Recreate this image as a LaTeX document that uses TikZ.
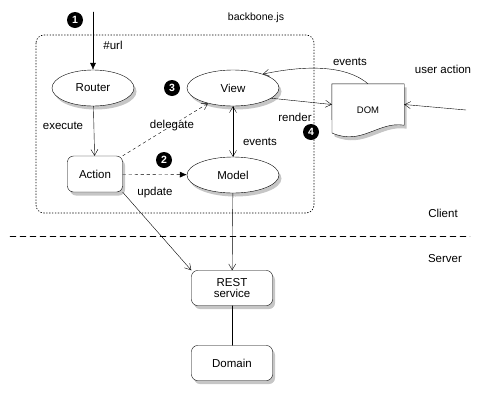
\documentclass[tikz,border=0pt]{standalone}
\usepackage{fontspec}
\setmainfont{Liberation Sans}
\usetikzlibrary{positioning,arrows.meta,shapes.geometric,shadows,calc}

\begin{document}
\begin{tikzpicture}[x=1pt, y=-1pt, line cap=round,
    font=\fontsize{11.5}{13}\selectfont,
    >={Straight Barb[length=6pt,width=7pt]},
    shade/.style={drop shadow={opacity=0.45, shadow xshift=2.5pt, shadow yshift=-3.5pt}},
    oval/.style={draw, ellipse, fill=white, shade, minimum height=36pt},
    box/.style={draw, rounded corners=6pt, fill=white, shade, align=center},
    badge/.style={circle, fill=black, text=white, inner sep=0pt, minimum size=16pt, font=\fontsize{10.5}{12}\selectfont\bfseries}]
  \useasboundingbox (0,0) rectangle (482,405);

  % backbone.js frame
  \draw[dash pattern=on 0.9pt off 2pt, line width=0.7pt, rounded corners=8pt] (36,35) rectangle (314,213);
  \node[font=\fontsize{10.5}{12}\selectfont] (bbjs) at (256,18) {backbone.js};

  % Client / Server split
  \draw[dash pattern=on 6pt off 4pt] (10,236) -- (470,236);
  \node (client) at (443,213) {Client};
  \node (server) at (445,259) {Server};

  % Nodes
  \node[oval, minimum width=82pt] (router) at (93,88) {Router};
  \node[oval, minimum width=92pt] (view)   at (233,88) {View};
  \node[oval, minimum width=92pt] (model)  at (233,175) {Model};
  \node[box, minimum width=55pt, minimum height=36pt] (action) at (95,174) {Action};
  \node[box, minimum width=81pt, minimum height=35pt] (rest)   at (232,288) {REST\\[-2pt]service};
  \node[box, minimum width=81pt, minimum height=35pt] (domain) at (232,363) {Domain};

  % DOM document shape
  \node[minimum width=72pt, minimum height=41pt, inner sep=0pt] (dom) at (368,104.5) {};
  \draw[fill=white, shade] (dom.north west) -- (dom.north east) -- (dom.south east)
    .. controls (378,121) and (362,146) .. (332,133) -- cycle;
  \node[font=\fontsize{9.5}{11}\selectfont] at (368,110) {DOM};

  % Numbered steps
  \node[badge] (s1) at (75,20)  {1};
  \node[badge] (s2) at (164,160) {2};
  \node[badge] (s3) at (172,88) {3};
  \node[badge] (s4) at (311,132) {4};

  % Free ends
  \coordinate (urlin)  at (93,12);
  \coordinate (userin) at (466,110);

  % Connectors
  \draw[-{Latex[length=7pt,width=6pt]}] (urlin) -- (router);
  \node (url) at (113,45) {\#url};

  \draw[->] (router) -- (action);
  \node (execute) at (63,126) {execute};

  \draw[->, dashed] (action.north east) -- (view);
  \node (delegate) at (172,126) {delegate};

  \draw[-{Latex[length=7pt,width=6pt]}, dashed] (action) -- (model);
  \node (update) at (155,193) {update};

  \draw[<->] (view) -- (model);
  \node (events1) at (260,142) {events};

  \draw[->] (view.-15) -- (dom.west);
  \node (render) at (295,117) {render};

  \draw[->] (dom.north) .. controls (352,70) and (320,62) .. (view.25);
  \node (events2) at (350,62) {events};

  \draw[->] (userin) -- (dom.east);
  \node (user) at (443,69) {user action};

  \draw[->] (action.south east) -- (rest.north west);
  \draw[->] (model) -- (rest);
  \draw (rest) -- (domain);
\end{tikzpicture}
\end{document}
